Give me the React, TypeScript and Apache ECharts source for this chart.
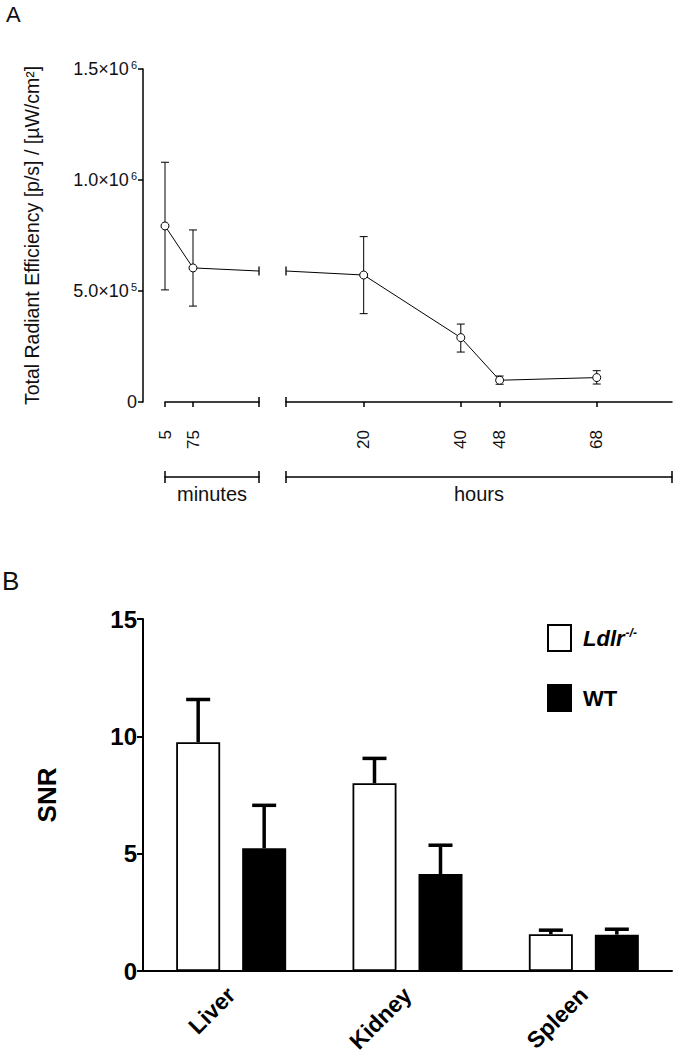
import { useEffect, useRef } from "react";
import * as echarts from "echarts";

// panel A: radiant efficiency over time (axis broken into minutes | hours)
const minuteTimes = [5, 75];
const minuteMeans = [7.93e5, 6.04e5];
const minuteLow = [5.05e5, 4.32e5];
const minuteHigh = [1.08e6, 7.75e5];

const hourTimes = [20, 40, 48, 68];
const hourMeans = [5.72e5, 2.9e5, 0.98e5, 1.1e5];
const hourLow = [3.98e5, 2.25e5, 0.8e5, 0.81e5];
const hourHigh = [7.45e5, 3.51e5, 1.17e5, 1.41e5];

// level of the line where it meets the axis break (240 min = 4 h)
const breakValue = 5.9e5;
const minuteRange = [5, 240];
const hourRange = [4, 83.5];
const minuteTicks = [5, 75];
const hourTicks = [20, 40, 48, 68];

// panel B: SNR per organ
const organs = ["Liver", "Kidney", "Spleen"];
const ldlrMeans = [9.75, 8.0, 1.57];
const ldlrUpper = [11.57, 9.06, 1.74];
const wtMeans = [5.23, 4.13, 1.55];
const wtUpper = [7.06, 5.36, 1.78];

const FONT = "Liberation Sans, Arial, sans-serif";
const BAR_W = 44;
const BAR_GAP = 22;

function sciLabel(v: number) {
  if (v === 0) return "{m|0}";
  const e = Math.floor(Math.log10(v));
  const m = (v / Math.pow(10, e)).toFixed(1);
  return `{m|${m}×10}{e|${e}}`;
}

function errA(params: any, api: any) {
  const x = api.value(0);
  const lo = api.coord([x, api.value(1)]);
  const hi = api.coord([x, api.value(2)]);
  const w = 4;
  const st = { stroke: "#000", lineWidth: 1 };
  return {
    type: "group",
    children: [
      { type: "line", shape: { x1: lo[0], y1: lo[1], x2: hi[0], y2: hi[1] }, style: st },
      { type: "line", shape: { x1: lo[0] - w, y1: lo[1], x2: lo[0] + w, y2: lo[1] }, style: st },
      { type: "line", shape: { x1: hi[0] - w, y1: hi[1], x2: hi[0] + w, y2: hi[1] }, style: st },
    ],
  };
}

function errB(dx: number) {
  return (params: any, api: any) => {
    const c = api.value(0);
    const base = api.coord([c, api.value(1)]);
    const top = api.coord([c, api.value(2)]);
    const x = base[0] + dx;
    const w = 12;
    const st = { stroke: "#000", lineWidth: 3.5 };
    return {
      type: "group",
      children: [
        { type: "line", shape: { x1: x, y1: base[1], x2: x, y2: top[1] }, style: st },
        { type: "line", shape: { x1: x - w, y1: top[1], x2: x + w, y2: top[1] }, style: st },
      ],
    };
  };
}

export default function App() {
  const chartRef = useRef<HTMLDivElement>(null);

  useEffect(() => {
    if (!chartRef.current) return;
    const chart = echarts.init(chartRef.current, null, { renderer: "svg" });

    const breakMark = (x: number) => ({
      value: [x, breakValue],
      symbol: "rect",
      symbolSize: [1.3, 9],
      itemStyle: { color: "#000", borderWidth: 0 },
    });

    const axisLineA = { lineStyle: { color: "#000", width: 1.5 } };
    const tickLabelA = {
      rotate: 90,
      margin: 8,
      fontSize: 17,
      color: "#111",
      fontFamily: FONT,
    };
    const bracketName = { fontSize: 20, color: "#111", fontFamily: FONT };

    const option: echarts.EChartsOption = {
      animation: false,
      textStyle: { fontFamily: FONT },
      grid: [
        { left: 165, top: 69, width: 94, height: 333 },
        { left: 286, top: 69, width: 386, height: 333 },
        { left: 143, top: 619, width: 529, height: 352 },
      ],
      xAxis: [
        {
          type: "value",
          gridIndex: 0,
          position: "bottom",
          min: minuteRange[0],
          max: minuteRange[1],
          offset: 20,
          axisLine: { ...axisLineA, symbol: ["none", "rect"], symbolSize: [10, 1.5] },
          axisTick: { customValues: minuteTicks, length: 5, lineStyle: { color: "#000", width: 1.5 } },
          axisLabel: { ...tickLabelA, customValues: minuteTicks },
          splitLine: { show: false },
        },
        {
          type: "value",
          gridIndex: 1,
          position: "bottom",
          min: hourRange[0],
          max: hourRange[1],
          offset: 20,
          axisLine: { ...axisLineA, symbol: ["rect", "none"], symbolSize: [10, 1.5] },
          axisTick: { customValues: hourTicks, length: 5, lineStyle: { color: "#000", width: 1.5 } },
          axisLabel: { ...tickLabelA, customValues: hourTicks },
          splitLine: { show: false },
        },
        {
          type: "value",
          gridIndex: 0,
          position: "bottom",
          min: minuteRange[0],
          max: minuteRange[1],
          offset: 75,
          name: "minutes",
          nameLocation: "middle",
          nameGap: 7,
          nameTextStyle: bracketName,
          axisLine: { ...axisLineA, symbol: ["rect", "rect"], symbolSize: [12, 1.5] },
          axisTick: { show: false },
          axisLabel: { show: false },
          splitLine: { show: false },
        },
        {
          type: "value",
          gridIndex: 1,
          position: "bottom",
          min: hourRange[0],
          max: hourRange[1],
          offset: 75,
          name: "hours",
          nameLocation: "middle",
          nameGap: 7,
          nameTextStyle: bracketName,
          axisLine: { ...axisLineA, symbol: ["rect", "rect"], symbolSize: [12, 1.5] },
          axisTick: { show: false },
          axisLabel: { show: false },
          splitLine: { show: false },
        },
        {
          type: "category",
          gridIndex: 2,
          position: "bottom",
          data: organs,
          axisLine: { lineStyle: { color: "#000", width: 2 } },
          axisTick: { alignWithLabel: true, length: 7, lineStyle: { color: "#000", width: 2 } },
          axisLabel: {
            rotate: 45,
            margin: 20,
            fontSize: 23,
            fontWeight: "bold",
            color: "#000",
            fontFamily: FONT,
          },
        },
      ],
      yAxis: [
        {
          type: "value",
          gridIndex: 0,
          min: 0,
          max: 1.5e6,
          interval: 5e5,
          offset: 22,
          name: "Total Radiant Efficiency [p/s] / [µW/cm²]",
          nameLocation: "middle",
          nameGap: 101,
          nameTextStyle: { fontSize: 19.5, color: "#111", fontFamily: FONT },
          axisLine: { show: true, ...axisLineA },
          axisTick: { show: true, length: 5, lineStyle: { color: "#000", width: 1.5 } },
          axisLabel: {
            margin: 6,
            color: "#111",
            formatter: (v: number) => sciLabel(v),
            rich: {
              m: { fontSize: 18, color: "#111", fontFamily: FONT },
              e: { fontSize: 11, color: "#111", fontFamily: FONT, verticalAlign: "top", padding: [0, 0, 9, 2] },
            },
          },
          splitLine: { show: false },
        },
        {
          type: "value",
          gridIndex: 1,
          min: 0,
          max: 1.5e6,
          show: false,
          splitLine: { show: false },
        },
        {
          type: "value",
          gridIndex: 2,
          min: 0,
          max: 15,
          interval: 5,
          name: "SNR",
          nameLocation: "middle",
          nameGap: 83,
          nameTextStyle: { fontSize: 26, fontWeight: "bold", color: "#000", fontFamily: FONT },
          axisLine: { show: true, lineStyle: { color: "#000", width: 2 } },
          axisTick: { show: true, length: 6, lineStyle: { color: "#000", width: 2 } },
          axisLabel: { margin: 6, fontSize: 24, fontWeight: "bold", color: "#000", fontFamily: FONT },
          splitLine: { show: false },
        },
      ],
      legend: {
        data: ["Ldlr-/-", "WT"],
        orient: "vertical",
        left: 542,
        top: 619,
        itemWidth: 23,
        itemHeight: 26,
        itemGap: 32,
        icon: "rect",
        formatter: (name: string) => (name === "WT" ? "{w|WT}" : "{i|Ldlr}{s|-/-}"),
        textStyle: {
          fontFamily: FONT,
          padding: [0, 0, 0, 7],
          rich: {
            w: { fontSize: 22, fontWeight: "bold", color: "#000", fontFamily: FONT },
            i: { fontSize: 22, fontWeight: "bold", fontStyle: "italic", color: "#000", fontFamily: FONT },
            s: { fontSize: 12, fontWeight: "bold", fontStyle: "italic", color: "#000", fontFamily: FONT, verticalAlign: "top", padding: [0, 0, 10, 1] },
          },
        },
      },
      series: [
        {
          type: "custom",
          xAxisIndex: 0,
          yAxisIndex: 0,
          renderItem: errA as any,
          data: minuteTimes.map((t, i) => [t, minuteLow[i], minuteHigh[i]]),
          z: 1,
          clip: false,
        },
        {
          type: "custom",
          xAxisIndex: 1,
          yAxisIndex: 1,
          renderItem: errA as any,
          data: hourTimes.map((t, i) => [t, hourLow[i], hourHigh[i]]),
          z: 1,
          clip: false,
        },
        {
          type: "line",
          xAxisIndex: 0,
          yAxisIndex: 0,
          symbol: "circle",
          symbolSize: 8,
          clip: false,
          lineStyle: { color: "#000", width: 1 },
          itemStyle: { color: "#fff", borderColor: "#000", borderWidth: 1 },
          data: [...minuteTimes.map((t, i) => [t, minuteMeans[i]]), breakMark(minuteRange[1])] as any,
          z: 3,
        },
        {
          type: "line",
          xAxisIndex: 1,
          yAxisIndex: 1,
          symbol: "circle",
          symbolSize: 8,
          clip: false,
          lineStyle: { color: "#000", width: 1 },
          itemStyle: { color: "#fff", borderColor: "#000", borderWidth: 1 },
          data: [breakMark(hourRange[0]), ...hourTimes.map((t, i) => [t, hourMeans[i]])] as any,
          z: 3,
        },
        {
          name: "Ldlr-/-",
          type: "bar",
          xAxisIndex: 4,
          yAxisIndex: 2,
          barWidth: BAR_W,
          barGap: `${(BAR_GAP / BAR_W) * 100}%`,
          itemStyle: { color: "#fff", borderColor: "#000", borderWidth: 1.8 },
          data: ldlrMeans,
        },
        {
          name: "WT",
          type: "bar",
          xAxisIndex: 4,
          yAxisIndex: 2,
          barWidth: BAR_W,
          itemStyle: { color: "#000", borderColor: "#000", borderWidth: 1.8 },
          data: wtMeans,
        },
        {
          type: "custom",
          xAxisIndex: 4,
          yAxisIndex: 2,
          renderItem: errB(-(BAR_W + BAR_GAP) / 2) as any,
          data: organs.map((_, i) => [i, ldlrMeans[i], ldlrUpper[i]]),
          z: 1,
        },
        {
          type: "custom",
          xAxisIndex: 4,
          yAxisIndex: 2,
          renderItem: errB((BAR_W + BAR_GAP) / 2) as any,
          data: organs.map((_, i) => [i, wtMeans[i], wtUpper[i]]),
          z: 1,
        },
      ],
      graphic: [
        { type: "text", left: 6, top: 3, style: { text: "A", fontSize: 22, fill: "#111", fontFamily: FONT } },
        { type: "text", left: 2, top: 568, style: { text: "B", fontSize: 26, fill: "#111", fontFamily: FONT } },
      ],
    };

    chart.setOption(option);
    return () => chart.dispose();
  }, []);

  return (
    <div
      ref={chartRef}
      style={{ position: "absolute", left: 0, top: 0, width: 675, height: 1063, background: "#fff" }}
    />
  );
}
